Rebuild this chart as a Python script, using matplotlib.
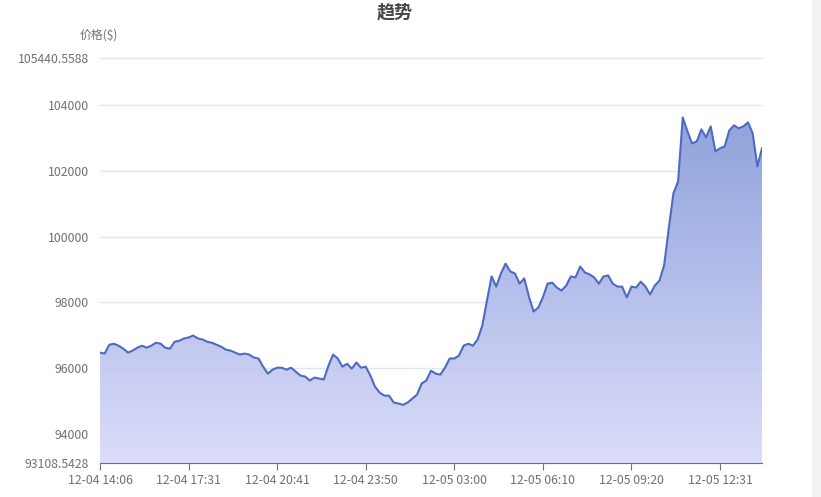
import numpy as np
import matplotlib
matplotlib.use("Agg")
import matplotlib.pyplot as plt
from matplotlib.colors import LinearSegmentedColormap
from matplotlib.patches import Rectangle

plt.rcParams["font.family"] = ["Noto Sans CJK SC", "DejaVu Sans"]

# price readings, one per category slot
prices = [
    96470, 96440, 96710, 96740, 96680, 96590, 96470, 96530, 96620, 96680,
    96620, 96680, 96770, 96740, 96620, 96590, 96800, 96830, 96900, 96930,
    96990, 96900, 96870, 96800, 96770, 96710, 96650, 96560, 96530, 96470,
    96410, 96440, 96410, 96320, 96290, 96040, 95830, 95950, 96010, 96010,
    95950, 96010, 95890, 95770, 95740, 95620, 95710, 95680, 95650, 96070,
    96410, 96290, 96040, 96130, 95980, 96170, 96010, 96040, 95770, 95430,
    95250, 95160, 95160, 94950, 94920, 94880, 94950, 95070, 95190, 95530,
    95620, 95920, 95830, 95800, 96010, 96290, 96290, 96380, 96680, 96740,
    96680, 96870, 97290, 98050, 98790, 98480, 98880, 99180, 98940, 98880,
    98570, 98730, 98180, 97720, 97840, 98150, 98570, 98600, 98450, 98360,
    98510, 98790, 98760, 99090, 98910, 98850, 98760, 98570, 98790, 98820,
    98570, 98480, 98480, 98150, 98480, 98450, 98630, 98480, 98240, 98510,
    98660, 99120, 100250, 101320, 101680, 103630, 103210, 102840, 102900, 103270,
    103020, 103360, 102600, 102690, 102750, 103240, 103390, 103300, 103360, 103480,
    103150, 102140, 102690,
]
tick_labels = ["12-04 14:06", "12-04 17:31", "12-04 20:41", "12-04 23:50",
               "12-05 03:00", "12-05 06:10", "12-05 09:20", "12-05 12:31"]
tick_step = 19
y_min = 93108.5428
y_max = 105440.5588
y_ticks = [93108.5428, 94000, 96000, 98000, 100000, 102000, 104000, 105440.5588]
y_tick_labels = ["93108.5428", "94000", "96000", "98000", "100000", "102000", "104000", "105440.5588"]

axis_col = "#6e7079"

fig = plt.figure(figsize=(8.21, 4.97), dpi=100)
ax = fig.add_axes([100 / 821, 34 / 497, 662 / 821, 405 / 497])
ax.set_axisbelow(True)

x = np.arange(len(prices))
fill = ax.fill_between(x, prices, y_min, facecolor="none", edgecolor="none")

# gradient fill clipped to the area under the line
cmap = LinearSegmentedColormap.from_list("area", ["#dadbfa", "#8a9edb"])
grad = np.linspace(0, 1, 256).reshape(-1, 1)
img = ax.imshow(grad, extent=[0, len(prices) - 1, y_min, max(prices)], aspect="auto",
                cmap=cmap, origin="lower", zorder=1, alpha=0.95)
img.set_clip_path(fill.get_paths()[0], transform=ax.transData)

ax.plot(x, prices, color="#4f6bbf", lw=1.5, zorder=3)

ax.set_xlim(0, len(prices) - 1)
ax.set_ylim(y_min, y_max)

ax.set_yticks(y_ticks)
ax.set_yticklabels(y_tick_labels)
ax.grid(axis="y", color="#e0e6f1", lw=1)
for line in ax.get_ygridlines():
    line.set_clip_on(False)
ax.tick_params(axis="y", length=0, pad=8, labelsize=8.8, labelcolor=axis_col)

ax.set_xticks(range(0, len(prices), tick_step)[:len(tick_labels)])
ax.set_xticklabels(tick_labels)
ax.tick_params(axis="x", length=5, color=axis_col, pad=3, labelsize=8.8, labelcolor=axis_col)

for side in ["top", "right", "left"]:
    ax.spines[side].set_visible(False)
ax.spines["bottom"].set_color(axis_col)
ax.spines["bottom"].set_zorder(4)

fig.text(395 / 821, 1 - 12 / 497, "趋势", ha="center", va="center",
         fontsize=13, fontweight="bold", color="#464646")
fig.text(99 / 821, 1 - 35 / 497, "价格($)", ha="center", va="center",
         fontsize=8.6, color=axis_col)

# scrollbar strip on the right edge
fig.patches.append(Rectangle((812 / 821, 0), 9 / 821, 1, transform=fig.transFigure,
                             facecolor="#f3f3f3", edgecolor="none"))

fig.savefig("out.png", dpi=100)
